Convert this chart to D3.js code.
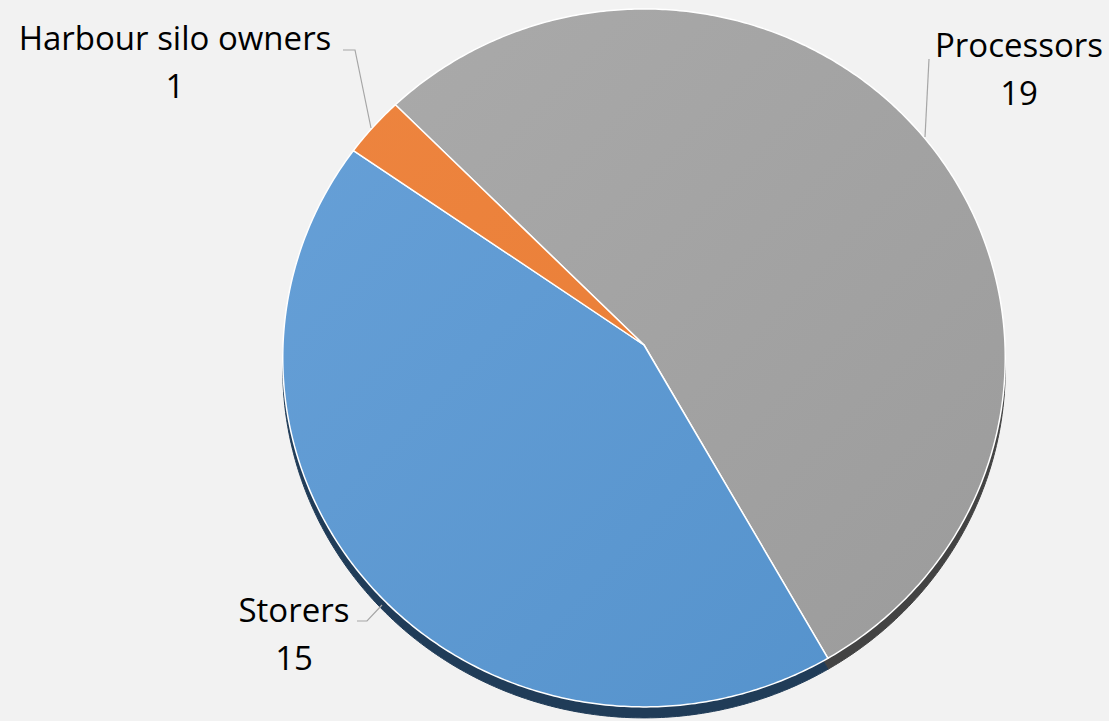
<!DOCTYPE html>
<html>
<head>
<meta charset="utf-8">
<script src="https://cdn.jsdelivr.net/npm/d3@7"></script>
<style>
  html, body { margin: 0; padding: 0; background: #f2f2f2; }
  svg { display: block; }
  text { font-family: "Open Sans", "Noto Sans", sans-serif; fill: #000; }
</style>
</head>
<body>
<svg id="chart" width="1109" height="721"></svg>
<script>
// ---- data ----
const categories = ["Processors", "Storers", "Harbour silo owners"];
const values = [19, 15, 1];
const valueLabels = ["19", "15", "1"];

// ---- styling ----
const faceColors = [["#ababab", "#9b9b9b"], ["#68a1d8", "#5391cb"], ["#ee8540", "#e77b32"]];
const wallColors = ["#434343", "#203c58", "#8a4317"];

const W = 1109, H = 721;
const svg = d3.select("#chart");
svg.append("rect").attr("width", W).attr("height", H).attr("fill", "#f2f2f2");

// perspective-tilted pie geometry
const cx = 644, cy = 345, rx = 361, ry = 348.5, k = 0.037, wall = 11;
function project(theta, r) {
  const x = Math.sin(theta) * r, y = -Math.cos(theta) * r;
  const d = 1 - k * y;
  return [cx + rx * x / d, cy + ry * y / d];
}

const pie = d3.pie().sort(null).value(d => d)
  .startAngle(-0.785).endAngle(-0.785 + 2 * Math.PI);
const arcs = pie(values);

function slicePoints(a) {
  const pts = [project(0, 0)];
  const n = Math.max(8, Math.ceil((a.endAngle - a.startAngle) / 0.01));
  for (let i = 0; i <= n; i++) {
    const t = a.startAngle + (a.endAngle - a.startAngle) * i / n;
    pts.push(project(t, 1));
  }
  return pts;
}
const line = d3.line().curve(d3.curveLinearClosed);

const defs = svg.append("defs");
faceColors.forEach((c, i) => {
  const g = defs.append("linearGradient").attr("id", "g" + i)
    .attr("gradientUnits", "userSpaceOnUse")
    .attr("x1", cx - rx).attr("y1", cy - ry).attr("x2", cx + rx).attr("y2", cy + ry);
  g.append("stop").attr("offset", "0").attr("stop-color", c[0]);
  g.append("stop").attr("offset", "1").attr("stop-color", c[1]);
});

// side wall (shifted copies)
svg.append("g").attr("transform", `translate(0,${wall})`)
  .selectAll("path").data(arcs).join("path")
  .attr("d", a => line(slicePoints(a)))
  .attr("fill", (a, i) => wallColors[i])
  .attr("stroke", (a, i) => wallColors[i])
  .attr("stroke-width", 1);

// faces
svg.append("g").selectAll("path").data(arcs).join("path")
  .attr("d", a => line(slicePoints(a)))
  .attr("fill", (a, i) => `url(#g${i})`)
  .attr("stroke", "#ffffff")
  .attr("stroke-width", 1.5)
  .attr("stroke-linejoin", "round");

// labels
const labelPos = [
  { x: 1019, y: 57, leader: [[929, 59], [925, 137]] },
  { x: 294, y: 622, leader: [[357, 621], [367, 621], [382, 605]] },
  { x: 175, y: 50, leader: [[343, 50], [355, 50], [371, 128]] }
];
const lg = svg.append("g");
arcs.forEach((a, i) => {
  const p = labelPos[i];
  lg.append("path").attr("d", d3.line()(p.leader))
    .attr("fill", "none").attr("stroke", "#a6a6a6").attr("stroke-width", 1.2);
  const t = lg.append("text").attr("text-anchor", "middle").attr("font-size", 33);
  t.append("tspan").attr("x", p.x).attr("y", p.y).text(categories[i]);
  t.append("tspan").attr("x", p.x).attr("y", p.y + 48).text(valueLabels[i]);
});
</script>
</body>
</html>
